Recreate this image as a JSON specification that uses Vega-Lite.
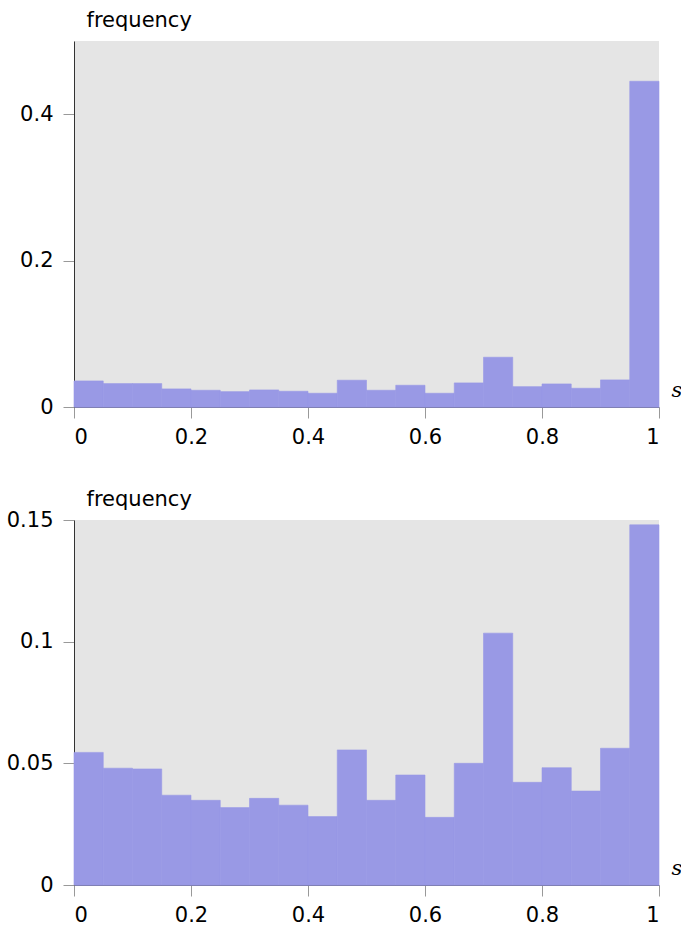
{
  "$schema": "https://vega.github.io/schema/vega-lite/v6.json",
  "padding": {"left": 6, "top": 9, "right": 5, "bottom": 2},
  "background": "white",
  "spacing": 113,
  "bounds": "flush",
  "config": {
    "view": {"fill": "#e5e5e5", "stroke": null},
    "font": "DejaVu Sans",
    "axis": {
      "grid": false,
      "labelFont": "DejaVu Sans",
      "labelFontSize": 21,
      "labelColor": "#000000",
      "tickColor": "#999999",
      "tickSize": 11,
      "labelPadding": 10,
      "domainColor": "#999999",
      "titleFont": "DejaVu Sans",
      "titleFontWeight": "normal",
      "titleColor": "#000000"
    },
    "axisLeft": {"domainColor": "#333333"},
    "axisBottom": {"labelPadding": 8, "domainColor": "#77779f"}
  },
  "datasets": {
    "top": [
      {"s0": 0.00, "s1": 0.05, "freq": 0.0356},
      {"s0": 0.05, "s1": 0.10, "freq": 0.0320},
      {"s0": 0.10, "s1": 0.15, "freq": 0.0320},
      {"s0": 0.15, "s1": 0.20, "freq": 0.0247},
      {"s0": 0.20, "s1": 0.25, "freq": 0.0229},
      {"s0": 0.25, "s1": 0.30, "freq": 0.0210},
      {"s0": 0.30, "s1": 0.35, "freq": 0.0233},
      {"s0": 0.35, "s1": 0.40, "freq": 0.0215},
      {"s0": 0.40, "s1": 0.45, "freq": 0.0188},
      {"s0": 0.45, "s1": 0.50, "freq": 0.0366},
      {"s0": 0.50, "s1": 0.55, "freq": 0.0229},
      {"s0": 0.55, "s1": 0.60, "freq": 0.0297},
      {"s0": 0.60, "s1": 0.65, "freq": 0.0188},
      {"s0": 0.65, "s1": 0.70, "freq": 0.0329},
      {"s0": 0.70, "s1": 0.75, "freq": 0.0680},
      {"s0": 0.75, "s1": 0.80, "freq": 0.0278},
      {"s0": 0.80, "s1": 0.85, "freq": 0.0315},
      {"s0": 0.85, "s1": 0.90, "freq": 0.0256},
      {"s0": 0.90, "s1": 0.95, "freq": 0.0370},
      {"s0": 0.95, "s1": 1.00, "freq": 0.4450}
    ],
    "bottom": [
      {"s0": 0.00, "s1": 0.05, "freq": 0.0545},
      {"s0": 0.05, "s1": 0.10, "freq": 0.0480},
      {"s0": 0.10, "s1": 0.15, "freq": 0.0477},
      {"s0": 0.15, "s1": 0.20, "freq": 0.0369},
      {"s0": 0.20, "s1": 0.25, "freq": 0.0348},
      {"s0": 0.25, "s1": 0.30, "freq": 0.0318},
      {"s0": 0.30, "s1": 0.35, "freq": 0.0356},
      {"s0": 0.35, "s1": 0.40, "freq": 0.0328},
      {"s0": 0.40, "s1": 0.45, "freq": 0.0281},
      {"s0": 0.45, "s1": 0.50, "freq": 0.0555},
      {"s0": 0.50, "s1": 0.55, "freq": 0.0348},
      {"s0": 0.55, "s1": 0.60, "freq": 0.0452},
      {"s0": 0.60, "s1": 0.65, "freq": 0.0278},
      {"s0": 0.65, "s1": 0.70, "freq": 0.0500},
      {"s0": 0.70, "s1": 0.75, "freq": 0.1035},
      {"s0": 0.75, "s1": 0.80, "freq": 0.0422},
      {"s0": 0.80, "s1": 0.85, "freq": 0.0482},
      {"s0": 0.85, "s1": 0.90, "freq": 0.0386},
      {"s0": 0.90, "s1": 0.95, "freq": 0.0562},
      {"s0": 0.95, "s1": 1.00, "freq": 0.1480}
    ]
  },
  "vconcat": [
    {
      "width": 585,
      "height": 366,
      "data": {"name": "top"},
      "mark": {"type": "rect", "fill": "#9999e5", "stroke": "#9999e5", "strokeWidth": 0.6},
      "encoding": {
        "x": {
          "field": "s0", "type": "quantitative",
          "scale": {"domain": [0, 1], "nice": false},
          "axis": {
            "values": [0, 0.2, 0.4, 0.6, 0.8, 1], "format": ".3~g",
            "title": "s", "titleFont": "DejaVu Serif", "titleFontStyle": "italic",
            "titleFontSize": 21, "titleAlign": "left", "titleBaseline": "alphabetic",
            "titleX": 597, "titleY": -11
          }
        },
        "x2": {"field": "s1"},
        "y": {
          "field": "freq", "type": "quantitative",
          "scale": {"domain": [0, 0.5], "nice": false},
          "axis": {
            "values": [0, 0.2, 0.4], "format": ".3~g",
            "title": "frequency", "titleAngle": 0, "titleFontSize": 21,
            "titleAlign": "left", "titleBaseline": "alphabetic",
            "titleX": 12, "titleY": -15
          }
        }
      }
    },
    {
      "width": 585,
      "height": 365,
      "data": {"name": "bottom"},
      "mark": {"type": "rect", "fill": "#9999e5", "stroke": "#9999e5", "strokeWidth": 0.6},
      "encoding": {
        "x": {
          "field": "s0", "type": "quantitative",
          "scale": {"domain": [0, 1], "nice": false},
          "axis": {
            "values": [0, 0.2, 0.4, 0.6, 0.8, 1], "format": ".3~g",
            "title": "s", "titleFont": "DejaVu Serif", "titleFontStyle": "italic",
            "titleFontSize": 21, "titleAlign": "left", "titleBaseline": "alphabetic",
            "titleX": 597, "titleY": -11
          }
        },
        "x2": {"field": "s1"},
        "y": {
          "field": "freq", "type": "quantitative",
          "scale": {"domain": [0, 0.15], "nice": false},
          "axis": {
            "values": [0, 0.05, 0.1, 0.15], "format": ".3~g",
            "title": "frequency", "titleAngle": 0, "titleFontSize": 21,
            "titleAlign": "left", "titleBaseline": "alphabetic",
            "titleX": 12, "titleY": -15
          }
        }
      }
    }
  ]
}
